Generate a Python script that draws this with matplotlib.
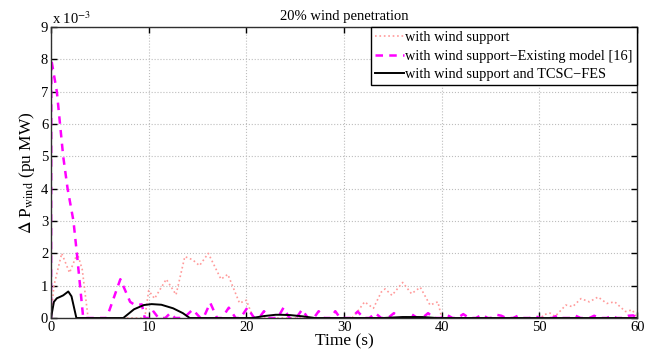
import numpy as np
import matplotlib
matplotlib.use("Agg")
import matplotlib.pyplot as plt

plt.rcParams['font.family'] = ['Liberation Serif', 'DejaVu Serif']
plt.rcParams['mathtext.fontset'] = 'stix'

# values, y in units of 1e-3 pu MW
t_wind = [0, 0.3, 1.1, 1.9, 2.7, 3.2, 3.8, 9.6, 10.0, 10.6, 11.8, 12.8, 13.7, 14.5,
          15.2, 16.1, 17.4, 18.1, 19.3, 20.0, 20.7, 30.8, 31.5, 32.1, 33.0, 33.8,
          34.2, 34.9, 36.0, 36.9, 37.8, 38.8, 39.6, 40.0, 50.2, 50.4, 51.1, 51.6,
          52.7, 53.4, 54.25, 55.1, 56.0, 56.9, 57.7, 58.8, 59.5, 60.0]
v_wind = [0, 1.0, 2.0, 1.4, 2.0, 1.5, 0, 0, 0.85, 0.6, 1.2, 0.72, 1.9, 1.8,
          1.62, 2.0, 1.2, 1.35, 0.46, 0.55, 0, 0, 0.25, 0.5, 0.3, 0.8,
          0.9, 0.7, 1.1, 0.75, 0.95, 0.4, 0.5, 0, 0, 0.1, 0.15, 0.05,
          0.4, 0.35, 0.6, 0.5, 0.65, 0.45, 0.5, 0.2, 0.25, 0]

t_exist = [0, 0.03, 0.6, 1.25, 1.7, 2.3, 2.65, 3.3, 5.7, 7.1, 8.1, 8.6, 9.3, 9.6,
           10.0, 10.5, 11.0, 11.7, 12.2, 12.7, 13.6, 14.5, 15.3, 15.6, 16.3, 17.0,
           17.5, 18.2, 18.9, 19.4, 20.1, 20.8, 21.3, 21.8, 22.3, 23.2, 23.8, 24.4,
           25.1, 25.7, 26.3, 26.9, 27.4, 27.9, 28.6, 29.1, 29.6, 30.3, 30.7,
           31.4, 32.0, 32.6, 33.2, 33.8, 34.5, 35.1, 35.7, 36.3, 36.9, 37.5, 38.0,
           38.6, 39.2, 39.9, 40.5, 41.1, 41.6, 42.2, 42.8, 43.5, 44.1, 44.7, 45.0,
           45.6, 46.1, 46.6, 47.3, 47.8, 48.3, 49.0, 49.5, 50.0, 51.3, 51.8, 52.3,
           53.2, 53.7, 54.2, 55.1, 55.6, 56.1, 56.9, 57.4, 57.9, 58.6, 59.1, 59.6, 60.0]
v_exist = [0, 8.0, 7.0, 5.0, 4.0, 3.0, 2.0, 0, 0, 1.2, 0.5, 0.4, 0.42, 0,
           0, 0.2, 0, 0, 0.15, 0, 0, 0.26, 0, 0, 0.47, 0,
           0, 0.32, 0, 0, 0.32, 0, 0, 0.21, 0, 0, 0.32, 0,
           0, 0.26, 0, 0, 0.21, 0, 0, 0.21, 0, 0, 0,
           0.2, 0, 0, 0.15, 0, 0, 0.15, 0, 0, 0.12, 0, 0,
           0.15, 0, 0, 0.1, 0, 0, 0.12, 0, 0, 0.1, 0, 0,
           0.1, 0.07, 0, 0, 0.07, 0, 0, 0.07, 0, 0, 0.07, 0,
           0, 0.07, 0, 0, 0.07, 0, 0, 0.07, 0, 0, 0.07, 0.08, 0]

t_tcsc = [0, 0.3, 0.6, 0.9, 1.25, 1.77, 2.1, 2.6, 7.4, 8.5, 9.5, 10.3, 11.3, 12.5,
          13.5, 14.2, 20.6, 21.8, 23.0, 23.5, 24.5, 25.8, 27.0, 34.0, 36.0, 38.0,
          39.5, 60.0]
v_tcsc = [0, 0.5, 0.61, 0.65, 0.7, 0.82, 0.67, 0, 0, 0.27, 0.4, 0.43, 0.41, 0.3,
          0.15, 0, 0, 0.06, 0.1, 0.1, 0.09, 0.05, 0, 0, 0.03, 0.03,
          0, 0]

labels = ['with wind support',
          'with wind support\u2212Existing model [16]',
          'with wind support and TCSC\u2212FES']

fig = plt.figure(figsize=(6.47, 3.59), dpi=100)
ax = fig.add_axes([0.0788, 0.1142, 0.906, 0.8106])

ax.plot(t_wind, v_wind, color='#ff9a9a', linestyle=':', linewidth=1.2, label=labels[0])
ax.plot(t_exist, v_exist, color='#ff00ff', linestyle=(0, (3, 2.5)), linewidth=1.8, label=labels[1])
ax.plot(t_tcsc, v_tcsc, color='black', linestyle='-', linewidth=1.4, label=labels[2])

ax.set_xlim(0, 60)
ax.set_ylim(0, 9)
ax.set_xticks(np.arange(0, 61, 10))
ax.set_yticks(np.arange(0, 10, 1))
ax.grid(True, linestyle=':', color='#bdbdbd', linewidth=0.8)
ax.tick_params(direction='in', top=True, right=True, length=4, width=1,
               labelsize=10.5, pad=2)
for s in ax.spines.values():
    s.set_linewidth(1.0)
    s.set_color('#303030')

ax.text(0.002, 1.0, r'x 10$^{-3}$', transform=ax.transAxes, fontsize=10.5,
        ha='left', va='bottom')
ax.set_title('20% wind penetration', fontsize=10.5, pad=5)
ax.set_xlabel('Time (s)', fontsize=12.5, labelpad=0)
ax.set_ylabel(r'$\Delta$ P$_{\mathrm{wind}}$ (pu MW)', fontsize=12.5, labelpad=3)

leg = ax.legend(loc='upper right', bbox_to_anchor=(1, 1), borderaxespad=0,
                fontsize=10.4, fancybox=False, framealpha=1, edgecolor='black',
                handlelength=2.0, handletextpad=0.1, labelspacing=0.35,
                borderpad=0.3)
leg.get_frame().set_linewidth(1.0)

plt.savefig('out.png', dpi=100)
